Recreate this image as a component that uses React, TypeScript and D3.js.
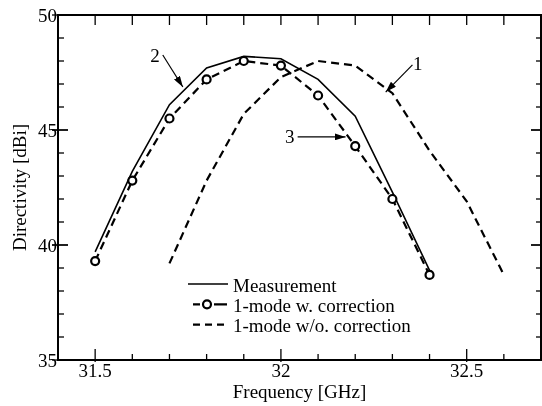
import React, { useRef, useEffect } from 'react';
import * as d3 from 'd3';

// Frequency points [GHz]
const freqs = [31.5, 31.6, 31.7, 31.8, 31.9, 32.0, 32.1, 32.2, 32.3, 32.4];
const freqsNoCorr = [31.7, 31.8, 31.9, 32.0, 32.1, 32.2, 32.3, 32.4, 32.5, 32.6];

// Directivity [dBi]
const measurement = [39.7, 43.2, 46.1, 47.7, 48.2, 48.1, 47.2, 45.6, 42.3, 38.9];
const withCorrection = [39.3, 42.8, 45.5, 47.2, 48.0, 47.8, 46.5, 44.3, 42.0, 38.7];
const withoutCorrection = [39.2, 42.8, 45.7, 47.3, 48.0, 47.8, 46.6, 44.1, 41.9, 38.7];

const xTicks = [31.5, 32, 32.5];
const yTicks = [35, 40, 45, 50];

const legendLabels = ['Measurement', '1-mode w. correction', '1-mode w/o. correction'];

// curve labels: text position and arrow (data coords)
const callouts = [
  { label: '1', tx: 32.368, ty: 47.91, x1: 32.354, y1: 47.83, x2: 32.282, y2: 46.65 },
  { label: '2', tx: 31.661, ty: 48.26, x1: 31.682, y1: 48.26, x2: 31.736, y2: 46.87 },
  { label: '3', tx: 32.024, ty: 44.7, x1: 32.045, y1: 44.7, x2: 32.174, y2: 44.7 },
];

const App = () => {
  const svgRef = useRef<SVGSVGElement>(null);

  useEffect(() => {
    const width = 542;
    const height = 406;
    const m = { left: 58, top: 15, right: 541, bottom: 360 };
    const font = '"Liberation Serif", "Times New Roman", serif';

    const x = d3.scaleLinear().domain([31.4, 32.7]).range([m.left, m.right]);
    const y = d3.scaleLinear().domain([35, 50]).range([m.bottom, m.top]);

    const svg = d3.select(svgRef.current)
      .attr('width', width)
      .attr('height', height);
    svg.selectAll('*').remove();

    svg.append('defs').append('marker')
      .attr('id', 'arrow')
      .attr('viewBox', '0 0 11 7')
      .attr('refX', 11).attr('refY', 3.5)
      .attr('markerWidth', 11).attr('markerHeight', 7)
      .attr('markerUnits', 'userSpaceOnUse')
      .attr('orient', 'auto')
      .append('path').attr('d', 'M0,0 L11,3.5 L0,7 Z').attr('fill', '#000');

    const minorX = d3.range(31.5, 32.65, 0.1).map(v => +v.toFixed(1));
    const minorY = d3.range(36, 50, 1);

    const g = svg.append('g').attr('stroke', '#000').attr('stroke-width', 1.3);

    // bottom and top ticks
    minorX.forEach(v => {
      const major = xTicks.some(t => Math.abs(t - v) < 1e-6);
      g.append('line')
        .attr('x1', x(v)).attr('x2', x(v))
        .attr('y1', m.bottom + (major ? 2 : 0)).attr('y2', m.bottom - (major ? 11 : 6));
      g.append('line')
        .attr('x1', x(v)).attr('x2', x(v))
        .attr('y1', m.top).attr('y2', m.top + 10);
    });
    // left / right ticks
    [...minorY, ...yTicks.filter(t => t > 35 && t < 50)].forEach(v => {
      const major = yTicks.includes(v);
      g.append('line')
        .attr('x1', m.left - (major ? 6 : 0)).attr('x2', m.left + (major ? 10 : 6))
        .attr('y1', y(v)).attr('y2', y(v));
      g.append('line')
        .attr('x1', m.right).attr('x2', m.right - (major ? 10 : 5))
        .attr('y1', y(v)).attr('y2', y(v));
    });
    [35, 50].forEach(v => {
      g.append('line').attr('x1', m.left - 6).attr('x2', m.left)
        .attr('y1', y(v)).attr('y2', y(v));
    });

    // frame
    svg.append('rect')
      .attr('x', m.left).attr('y', m.top)
      .attr('width', m.right - m.left).attr('height', m.bottom - m.top)
      .attr('fill', 'none').attr('stroke', '#000').attr('stroke-width', 2);

    // tick labels
    svg.append('g').selectAll('text').data(xTicks).enter().append('text')
      .attr('x', d => x(d)).attr('y', 377)
      .attr('text-anchor', 'middle')
      .attr('font-family', font).attr('font-size', 19)
      .text(d => String(d));

    svg.append('g').selectAll('text').data(yTicks).enter().append('text')
      .attr('x', 57).attr('y', d => y(d) + 6.5)
      .attr('text-anchor', 'end')
      .attr('font-family', font).attr('font-size', 19)
      .text(d => String(d));

    // axis titles
    svg.append('text')
      .attr('x', (m.left + m.right) / 2).attr('y', 398)
      .attr('text-anchor', 'middle')
      .attr('font-family', font).attr('font-size', 19)
      .text('Frequency [GHz]');

    svg.append('text')
      .attr('transform', `translate(26,${(m.top + m.bottom) / 2}) rotate(-90)`)
      .attr('text-anchor', 'middle')
      .attr('font-family', font).attr('font-size', 19)
      .text('Directivity [dBi]');

    const line = d3.line<[number, number]>()
      .x(d => x(d[0]))
      .y(d => y(d[1]));

    const measData = freqs.map((f, i) => [f, measurement[i]] as [number, number]);
    const corrData = freqs.map((f, i) => [f, withCorrection[i]] as [number, number]);
    const noCorrData = freqsNoCorr.map((f, i) => [f, withoutCorrection[i]] as [number, number]);

    svg.append('path').attr('d', line(noCorrData))
      .attr('fill', 'none').attr('stroke', '#000').attr('stroke-width', 2.2)
      .attr('stroke-dasharray', '8,5');

    svg.append('path').attr('d', line(measData))
      .attr('fill', 'none').attr('stroke', '#000').attr('stroke-width', 1.6);

    svg.append('path').attr('d', line(corrData))
      .attr('fill', 'none').attr('stroke', '#000').attr('stroke-width', 2.2)
      .attr('stroke-dasharray', '8,5');

    svg.append('g').selectAll('circle').data(corrData).enter().append('circle')
      .attr('cx', d => x(d[0])).attr('cy', d => y(d[1]))
      .attr('r', 4)
      .attr('fill', '#fff').attr('stroke', '#000').attr('stroke-width', 2.2);

    // callouts
    callouts.forEach(c => {
      svg.append('line')
        .attr('x1', x(c.x1)).attr('y1', y(c.y1))
        .attr('x2', x(c.x2)).attr('y2', y(c.y2))
        .attr('stroke', '#000').attr('stroke-width', 1.2)
        .attr('marker-end', 'url(#arrow)');
      svg.append('text')
        .attr('x', x(c.tx)).attr('y', y(c.ty) + 6.5)
        .attr('text-anchor', 'middle')
        .attr('font-family', font).attr('font-size', 19)
        .text(c.label);
    });

    // legend
    const lx0 = 188, lx1 = 228, ly = 284, dy = 20.3;
    const legend = svg.append('g');
    legendLabels.forEach((label, i) => {
      const yy = ly + i * dy;
      const ln = legend.append('line')
        .attr('x1', i === 0 ? lx0 : 193).attr('x2', lx1).attr('y1', yy).attr('y2', yy)
        .attr('stroke', '#000');
      if (i === 0) ln.attr('stroke-width', 1.6);
      if (i === 1) ln.attr('stroke-width', 2.2).attr('stroke-dasharray', '7,14,13');
      if (i === 2) ln.attr('stroke-width', 2.2).attr('stroke-dasharray', '7,5');
      if (i === 1) {
        legend.append('circle').attr('cx', 207).attr('cy', yy).attr('r', 4)
          .attr('fill', '#fff').attr('stroke', '#000').attr('stroke-width', 2.2);
      }
      legend.append('text')
        .attr('x', 233).attr('y', yy + 7.5)
        .attr('font-family', font).attr('font-size', 19)
        .text(label);
    });
  }, []);

  return (
    <div style={{ position: 'fixed', left: 0, top: 0 }}>
      <svg ref={svgRef}></svg>
    </div>
  );
};

export default App;
